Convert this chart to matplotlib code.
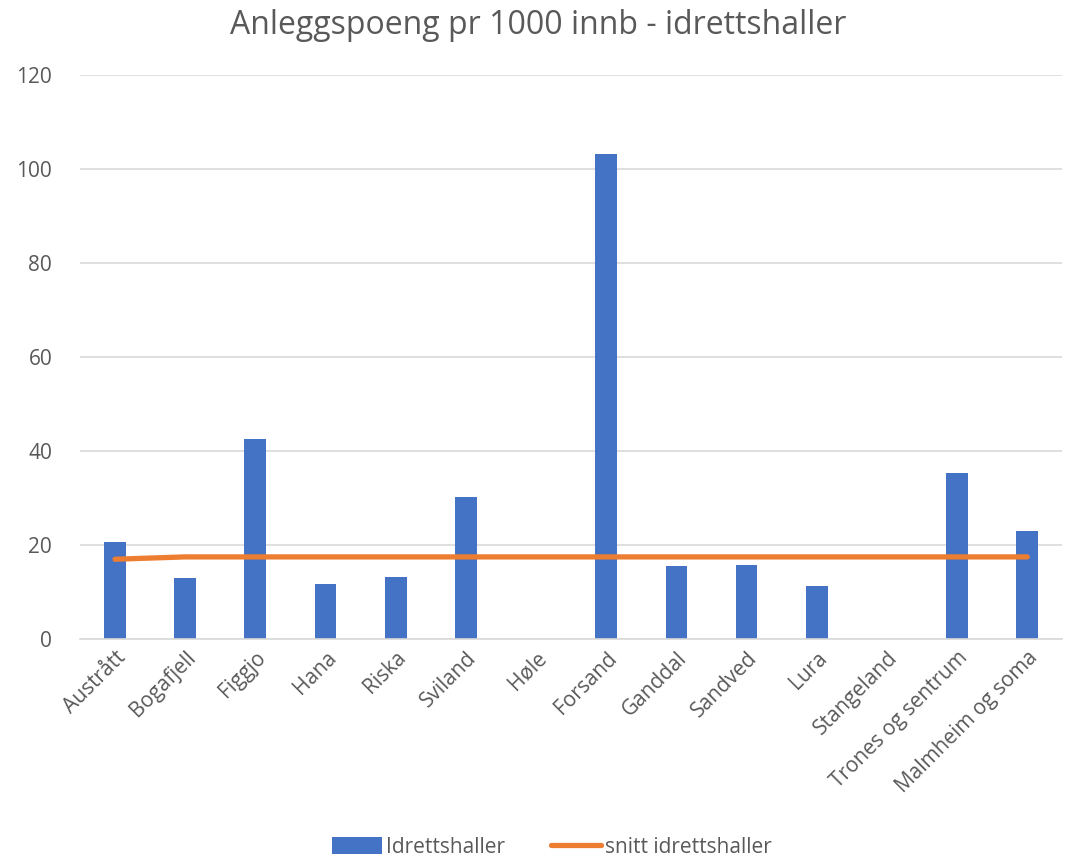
import matplotlib
matplotlib.use("Agg")
import matplotlib.pyplot as plt
import numpy as np

# Data
omrader = ["Austrått", "Bogafjell", "Figgjo", "Hana", "Riska", "Sviland", "Høle",
           "Forsand", "Ganddal", "Sandved", "Lura", "Stangeland",
           "Trones og sentrum", "Malmheim og soma"]
idrettshaller = [20.6, 13.0, 42.5, 11.8, 13.2, 30.2, 0, 103.2, 15.5, 15.7, 11.4, 0, 35.3, 23.1]
snitt = [17.0, 17.5, 17.5, 17.5, 17.5, 17.5, 17.5, 17.5, 17.5, 17.5, 17.5, 17.5, 17.5, 17.5]
yticks = [0, 20, 40, 60, 80, 100, 120]

GREY = "#595959"
plt.rcParams["font.family"] = ["Open Sans", "DejaVu Sans"]

fig = plt.figure(figsize=(10.76, 8.66), dpi=100)
ax = fig.add_axes([0.0743, 0.262, 0.913, 0.651])

x = np.arange(len(omrader))
bars = ax.bar(x, idrettshaller, width=0.31, color="#4472C4", label="Idrettshaller", zorder=2)
line, = ax.plot(x, snitt, color="#ED7D31", lw=3.8, solid_capstyle="round",
                label="snitt idrettshaller", zorder=3)

ax.set_xlim(-0.5, len(omrader) - 0.5)
ax.set_ylim(0, 120)
ax.set_yticks(yticks)
ax.yaxis.grid(True, color="#D9D9D9", lw=1.2, zorder=0)
ax.set_axisbelow(True)
for s in ["top", "right", "left"]:
    ax.spines[s].set_visible(False)
ax.spines["bottom"].set_color("#D9D9D9")
ax.spines["bottom"].set_linewidth(1.2)
ax.tick_params(axis="both", length=0, colors=GREY, labelsize=15)
ax.tick_params(axis="y", pad=20)
ax.tick_params(axis="x", pad=6)
ax.set_xticks(x)
ax.set_xticklabels(omrader, rotation=45, ha="right", rotation_mode="anchor")

fig.suptitle("Anleggspoeng pr 1000 innb - idrettshaller", y=0.99, fontsize=23, color=GREY)
fig.legend([bars, line], ["Idrettshaller", "snitt idrettshaller"],
           loc="lower center", bbox_to_anchor=(0.513, -0.012), ncol=2, frameon=False,
           fontsize=15, labelcolor=GREY, handlelength=2.4, handleheight=0.9,
           handletextpad=0.2, columnspacing=2.2)

fig.savefig("out.png", dpi=100)
